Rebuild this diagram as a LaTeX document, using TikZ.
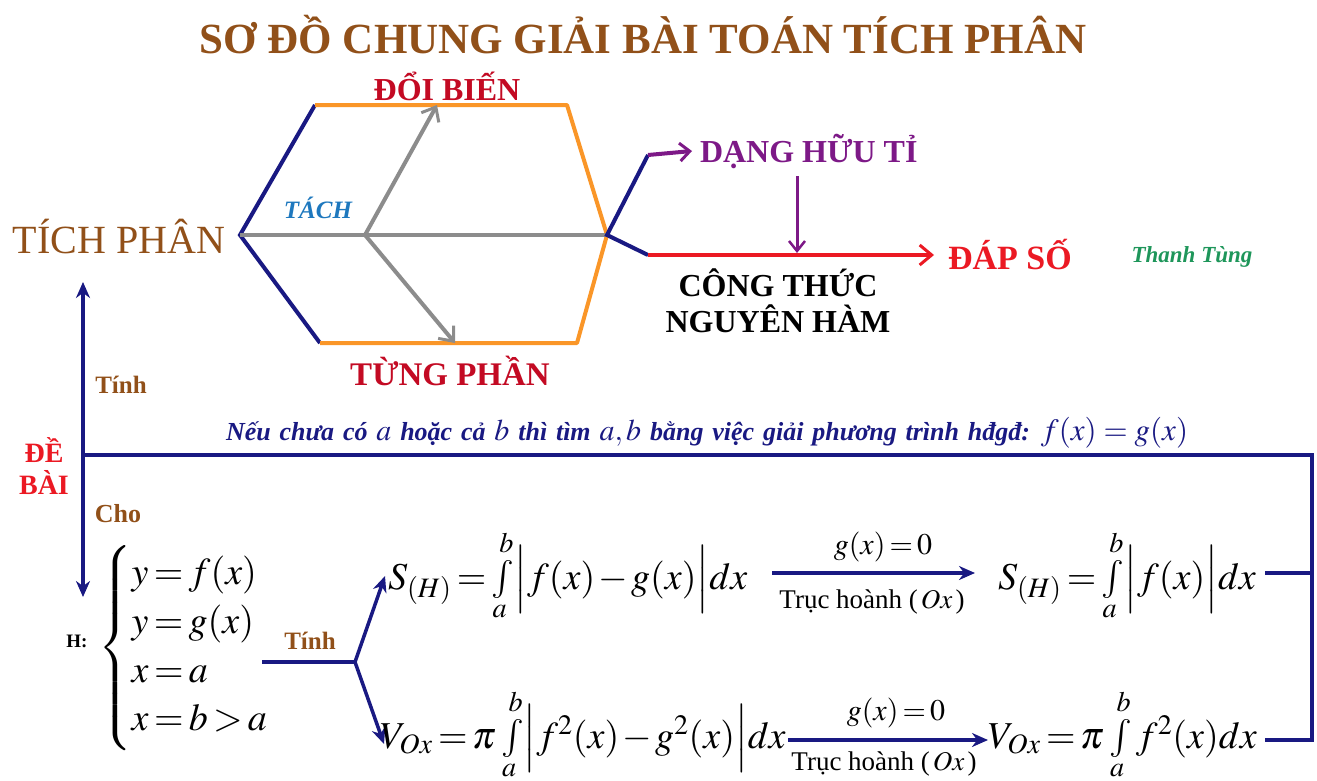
\documentclass[tikz,border=0pt]{standalone}
\usepackage{mathptmx}
\usepackage{fontspec}
\setmainfont{Liberation Serif}
\usetikzlibrary{arrows.meta}
\definecolor{navy}{RGB}{25,25,130}
\definecolor{orng}{RGB}{250,150,40}
\definecolor{gry}{RGB}{140,140,140}
\definecolor{dred}{RGB}{195,10,35}
\definecolor{bred}{RGB}{235,25,35}
\definecolor{purp}{RGB}{125,25,135}
\definecolor{brwn}{RGB}{145,80,25}
\definecolor{grn}{RGB}{30,150,90}
\definecolor{tblue}{RGB}{30,120,190}
\newcommand\fsz[1]{\fontsize{#1}{#1}\selectfont}
\newcommand\tightmath{\thickmuskip=2.5mu\medmuskip=1.5mu}
\newcommand\lint[2]{\int\limits_{\raisebox{4pt}[0pt][0pt]{$\scriptstyle #1$}}^{#2}}
\tikzset{
  txt/.style={inner sep=0pt, outer sep=0pt},
  navyline/.style={draw=navy, line width=4pt},
  orline/.style={draw=orng, line width=4pt},
  gryarrow/.style={draw=gry, line width=4pt, -{Straight Barb[length=12pt,width=20pt,line width=3pt]}},
  navyarrow/.style={draw=navy, line width=4pt, -{Stealth[length=16pt,width=14pt]}},
  formula/.style={txt, font=\fsz{38}\tightmath, anchor=base west},
}
\begin{document}
\begin{tikzpicture}[x=1pt,y=-1pt]
\useasboundingbox (0,0) rectangle (1317,780);
% title
\node[txt, text=brwn, font=\fsz{43}\bfseries] (title) at (643,35) {SƠ ĐỒ CHUNG GIẢI BÀI TOÁN TÍCH PHÂN};
% hexagon
\coordinate (L) at (240,235);
\coordinate (TL) at (315,105);
\coordinate (TR) at (567,105);
\coordinate (R) at (607,235);
\coordinate (BR) at (577,343);
\coordinate (BL) at (320,343);
\coordinate (C) at (365,235);
\coordinate (up1) at (437,105);
\coordinate (dn1) at (455,343);
\draw[navyline] (TL) -- (L) -- (BL);
\draw[orline, line join=round] (TL) -- (TR) -- (R) -- (BR) -- (BL);
\draw[draw=gry, line width=4pt] (L) -- (R);
\draw[gryarrow] (C) -- (up1);
\draw[gryarrow] (C) -- (dn1);
\node[txt, text=brwn, font=\fsz{40}, anchor=east] (tp) at (225,237) {TÍCH PHÂN};
\node[txt, text=tblue, font=\fsz{25}\bfseries\itshape] (tach) at (318,208) {TÁCH};
\node[txt, text=dred, font=\fsz{32}\bfseries] (doi) at (447,86) {ĐỔI BIẾN};
\node[txt, text=dred, font=\fsz{33}\bfseries] (tung) at (450,371) {TỪNG PHẦN};
% right part
\coordinate (pk) at (648,155);
\coordinate (rk) at (648,255);
\node[txt, text=purp, font=\fsz{32}\bfseries, anchor=west] (dang) at (700,151) {DẠNG HỮU TỈ};
\node[txt, text=bred, font=\fsz{34}\bfseries, anchor=west] (dap) at (948,255) {ĐÁP SỐ};
\node[txt, text=grn, font=\fsz{23}\bfseries\itshape] (tt) at (1192,257) {Thanh Tùng};
\node[txt, font=\fsz{32}\bfseries, align=center] (ct) at (778,301) {CÔNG THỨC\\[4pt]NGUYÊN HÀM};
\coordinate (m) at (797,253);
\draw[navyline] (pk) -- (R) -- (rk);
\draw[draw=purp, line width=4pt, -{Straight Barb[length=10pt,width=18pt,line width=3pt]}] (pk) -- ([xshift=-8pt]dang.west);
\draw[draw=purp, line width=3pt, -{Straight Barb[length=10pt,width=16pt,line width=2.5pt]}] (dang.south -| m) ++(0,8) -- (m);
\draw[draw=bred, line width=4pt, -{Straight Barb[length=12pt,width=20pt,line width=3pt]}] (rk) -- ([xshift=-14pt]dap.west);
% left vertical
\coordinate (D) at (83,455);
\coordinate (upA) at (83,282);
\coordinate (dnA) at (83,597);
\draw[navyarrow] (D) -- (upA);
\draw[navyarrow] (D) -- (dnA);
\node[txt, text=brwn, font=\fsz{25}\bfseries] (tinh1) at (121,385) {Tính};
\node[txt, text=brwn, font=\fsz{26}\bfseries] (cho) at (118,514) {Cho};
\node[txt, text=bred, font=\fsz{28}\bfseries, align=center] (de) at (44,466) {ĐỀ\\[4pt]BÀI};
% long line
\coordinate (E) at (1312,455);
\coordinate (F) at (1312,740);
\coordinate (s2end) at (1265,573);
\coordinate (v2end) at (1265,740);
\draw[navyline] (D) -- (E) -- (F) -- (v2end);
\draw[navyline] (s2end) -- (s2end -| E);
\node[txt, text=navy, font=\fsz{26}\bfseries\itshape, anchor=base west] (neu) at (226,440) {\spaceskip=0.34em Nếu chưa có {\fsz{30}$a$} hoặc cả {\fsz{30}$b$} thì tìm {\fsz{30}$a,b$} bằng việc giải phương trình hđgđ: {\fsz{31}$f(x)=g(x)$}};
% system
\node[txt, font=\fsz{19}\bfseries] (H) at (77,641) {H:};
\node[txt, font=\fsz{38}\tightmath, anchor=west] (sys) at (98,648) {$\renewcommand\arraystretch{1.28}\left\{\begin{array}{@{}l@{}} y=f(x)\\ y=g(x)\\ x=a\\ x=b>a\end{array}\right.$};
\node[txt, text=brwn, font=\fsz{25}\bfseries] (tinh2) at (310,641) {Tính};
\coordinate (t0) at (262,662);
\coordinate (t1) at (355,662);
\coordinate (tS) at (385,576);
\coordinate (tV) at (384,744);
\draw[navyline] (t0) -- (t1);
\draw[navyarrow, line width=3.5pt] (t1) -- (tS);
\draw[navyarrow, line width=3.5pt] (t1) -- (tV);
% S row
\node[formula] (S1) at (388,589) {$S_{(H)}=\lint{a}{b}\Bigl|f(x)-g(x)\Bigr|dx$};
\node[formula] (S2) at (998,589) {$S_{(H)}=\lint{a}{b}\Bigl|f(x)\Bigr|dx$};
\coordinate (sa0) at (772,573);
\coordinate (sa1) at (975,573);
\draw[navyarrow, line width=3.5pt] (sa0) -- (sa1);
\node[txt, font=\fsz{30}\tightmath] (g1) at (883,547) {$g(x)=0$};
\node[txt, font=\fsz{27}] (tr1) at (872,602) {Trục hoành ($\,Ox\,$)};
% V row
\node[formula] (V1) at (380,748) {$V_{Ox}=\pi\lint{a}{b}\Bigl|f^2(x)-g^2(x)\Bigr|dx$};
\node[formula] (V2) at (988,748) {$V_{Ox}=\pi\lint{a}{b} f^2(x)dx$};
\coordinate (va0) at (788,740);
\coordinate (va1) at (988,740);
\draw[navyarrow, line width=3.5pt] (va0) -- (va1);
\node[txt, font=\fsz{30}\tightmath] (g2) at (896,713) {$g(x)=0$};
\node[txt, font=\fsz{27}] (tr2) at (884,764) {Trục hoành ($\,Ox\,$)};
\end{tikzpicture}
\end{document}
